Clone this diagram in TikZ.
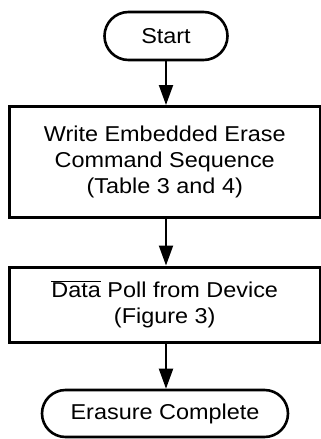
\documentclass[tikz,border=0pt]{standalone}
\usepackage{fontspec}
\setmainfont{Liberation Sans}[FakeStretch=1.09]
\usetikzlibrary{arrows.meta,shapes.misc}
\begin{document}
\begin{tikzpicture}[x=1pt,y=-1pt,
  term/.style={draw, rounded rectangle, line width=2.6pt, inner sep=0pt},
  stepbox/.style={draw, rectangle, line width=3pt, inner sep=0pt, align=center},
  flow/.style={line width=2pt, -{Triangle[width=14pt,length=20pt]}},
  font=\fontsize{21.5pt}{26pt}\selectfont]
\useasboundingbox (0,0) rectangle (321,439);
\node[term, minimum width=123pt, minimum height=48pt] (start) at (166,36) {Start};
\node[stepbox, minimum width=310.5pt, minimum height=111pt] (write) at (164.75,162) {Write Embedded Erase\\Command Sequence\\(Table 3 and 4)};
\node[stepbox, minimum width=310.5pt, minimum height=75pt] (poll) at (164.75,304.5) {$\overline{\hbox{Data}}$ Poll from Device\\(Figure 3)};
\node[term, minimum width=246pt, minimum height=47pt] (done) at (165,413.5) {Erasure Complete};
\draw[flow] (start.south -| 166,0) -- (write.north -| 166,0);
\draw[flow] (write.south -| 166,0) -- (poll.north -| 166,0);
\draw[flow] (poll.south -| 166,0) -- (done.north -| 166,0);
\end{tikzpicture}
\end{document}
